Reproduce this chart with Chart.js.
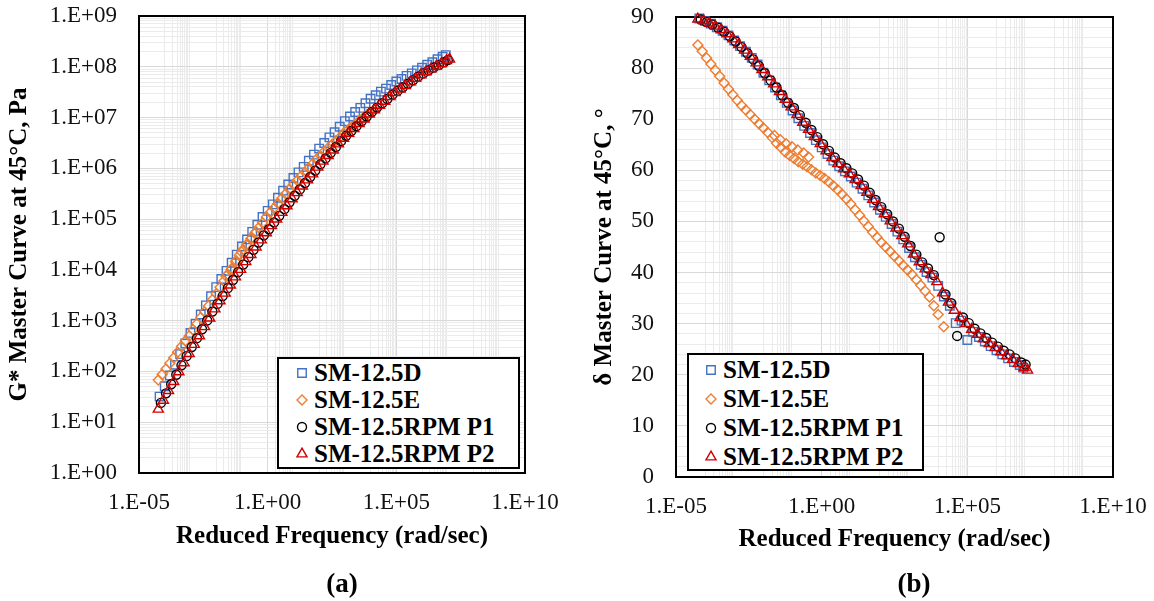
<!DOCTYPE html>
<html>
<head>
<meta charset="utf-8">
<title>Master curves</title>
<script src="https://cdn.jsdelivr.net/npm/chart.js@4.4.1/dist/chart.umd.min.js"></script>
<style>
  html, body { margin: 0; padding: 0; background: #fff; }
  #wrap { position: relative; width: 1154px; height: 601px; overflow: hidden; font-family: 'Liberation Serif', 'Times New Roman', serif; }
  #wrap canvas { position: absolute; top: 0; }
  .legend { position: absolute; box-sizing: border-box; background: #fff; border: 2px solid #000; font-weight: bold; font-size: 25px; color: #000; }
  .legend .row { position: absolute; left: 0; right: 0; white-space: nowrap; }
  .legend .row canvas { position: absolute; }
  .legend .row span { position: absolute; }
  .caption { position: absolute; transform: translate(-50%, -50%); font-weight: bold; font-size: 27px; }
</style>
</head>
<body>
<div id="wrap">
  <canvas id="gstar" width="577" height="601" style="left:0"></canvas>
  <canvas id="phase" width="577" height="601" style="left:577px"></canvas>
  <div id="legA" class="legend" style="left:277px; top:357px; width:243px; height:112px"></div>
  <div id="legB" class="legend" style="left:687px; top:353px; width:237px; height:118px"></div>
  <div class="caption" style="left:342px; top:583px">(a)</div>
  <div class="caption" style="left:914px; top:583px">(b)</div>
</div>
<script>
// SM-12.5D
const dFreq = [6.31e-5,
  1.00e-4, 1.58e-4, 2.51e-4, 3.98e-4, 6.31e-4,
  1.00e-3, 1.58e-3, 2.51e-3, 3.98e-3, 6.31e-3,
  1.00e-2, 1.58e-2, 2.51e-2, 3.98e-2, 6.31e-2,
  0.100, 0.158, 0.251, 0.398, 0.631,
  1.00, 1.58, 2.51, 3.98, 6.31,
  10.0, 15.8, 25.1, 39.8, 63.1,
  100, 158, 251, 398, 631,
  1000, 1580, 2510, 3980, 6310,
  1.00e4, 1.58e4, 2.51e4, 3.98e4, 6.31e4,
  1.00e5, 1.58e5, 2.51e5, 3.98e5, 6.31e5,
  1.00e6, 1.58e6, 2.51e6, 3.98e6, 6.31e6,
  8.32e6];
const dGstar = [32, 51, 83, 135, 219, 355, 575, 871, 1320, 2000, 3020, 4570, 6610, 9550,
  13800, 20000, 28800, 39800, 56200, 77600, 1.10e5, 1.45e5, 1.95e5, 2.63e5, 3.63e5, 4.79e5,
  6.46e5, 8.32e5, 1.07e6, 1.41e6, 1.86e6, 2.45e6, 3.16e6, 4.07e6, 5.13e6, 6.61e6, 8.51e6,
  1.05e7, 1.29e7, 1.55e7, 1.91e7, 2.34e7, 2.75e7, 3.24e7, 3.72e7, 4.37e7, 5.13e7, 5.75e7,
  6.61e7, 7.41e7, 8.51e7, 9.55e7, 1.10e8, 1.23e8, 1.41e8, 1.58e8, 1.70e8];
const dPhase = [89.7, 89.2, 88.7, 88.0, 87.3, 86.4, 85.4, 84.3, 83.2, 82.0, 80.7, 79.1, 77.6,
  76.2, 74.7, 73.2, 71.7, 70.2, 68.7, 67.3, 65.9, 64.5, 63.2, 61.9, 60.8, 59.8, 58.8, 57.6,
  56.4, 55.1, 53.7, 52.3, 50.9, 49.5, 48.0, 46.5, 44.8, 43.0, 41.5, 40.1, 39.0, 37.4, 35.3,
  33.5, 30.1, 30.6, 26.8, 28.4, 27.4, 26.5, 25.6, 24.8, 24.0, 23.2, 22.5, 21.9, 21.4];

// SM-12.5E
const eFreq = [5.62e-5, 7.94e-5, 1.12e-4, 1.58e-4, 2.24e-4, 3.16e-4, 4.47e-4, 6.31e-4, 8.91e-4,
  1.26e-3, 1.78e-3, 2.51e-3, 3.55e-3, 5.01e-3, 7.08e-3, 1.00e-2, 1.41e-2, 2.00e-2, 2.82e-2,
  3.98e-2, 5.62e-2, 7.94e-2, 0.112, 0.158, 0.224, 0.316, 0.447, 0.631, 0.891, 1.26, 1.78,
  2.51, 3.55, 5.01, 7.08, 10.0, 14.1, 20.0, 28.2, 39.8, 56.2, 79.4, 112, 158, 224, 316, 447,
  631, 891, 1260, 1780, 2510, 3550, 5010, 7080, 1.00e4, 1.55e4,
  2.40e-2, 3.80e-2, 6.03e-2, 9.55e-2, 0.151, 0.240, 0.355];
const eGstar = [68, 87, 112, 145, 186, 240, 309, 398, 501, 661, 871, 1150, 1480, 1950, 2570,
  3390, 4570, 6030, 8130, 10700, 14500, 19500, 25100, 32400, 41700, 52500, 67600, 85100,
  1.10e5, 1.35e5, 1.66e5, 2.04e5, 2.57e5, 3.16e5, 3.89e5, 4.79e5, 5.75e5, 7.08e5, 8.51e5,
  1.02e6, 1.23e6, 1.51e6, 1.78e6, 2.14e6, 2.51e6, 2.95e6, 3.47e6, 4.07e6, 4.90e6, 5.62e6,
  6.46e6, 7.41e6, 8.51e6, 9.77e6, 1.12e7, 1.29e7, 1.48e7,
  7590, 10200, 15100, 22400, 30900, 42700, 56200];
const ePhase = [84.5, 83.3, 82.0, 80.8, 79.6, 78.4, 77.1, 75.9, 74.8, 73.7, 72.7, 71.8, 70.9,
  70.0, 69.1, 68.3, 67.4, 66.4, 65.3, 64.5, 63.6, 62.9, 62.3, 61.7, 61.2, 60.7, 60.1, 59.5,
  59.0, 58.4, 57.7, 57.0, 56.2, 55.3, 54.4, 53.4, 52.3, 51.2, 50.1, 49.0, 47.9, 46.9, 45.9,
  45.0, 44.1, 43.2, 42.3, 41.4, 40.5, 39.6, 38.6, 37.5, 36.4, 35.2, 33.5, 31.8, 29.4,
  66.8, 66.0, 65.2, 64.6, 64.0, 63.4, 62.6];

// SM-12.5RPM P1
const p1Freq = [7.08e-5,
  1.12e-4, 1.78e-4, 2.82e-4, 4.47e-4, 7.08e-4,
  1.12e-3, 1.78e-3, 2.82e-3, 4.47e-3, 7.08e-3,
  1.12e-2, 1.78e-2, 2.82e-2, 4.47e-2, 7.08e-2,
  0.112, 0.178, 0.282, 0.447, 0.708,
  1.12, 1.78, 2.82, 4.47, 7.08,
  11.2, 17.8, 28.2, 44.7, 70.8,
  112, 178, 282, 447, 708,
  1120, 1780, 2820, 4470, 7080,
  1.12e4, 1.78e4, 2.82e4, 4.47e4, 7.08e4,
  1.12e5, 1.78e5, 2.82e5, 4.47e5, 7.08e5,
  1.12e6, 1.78e6, 2.82e6, 4.47e6, 7.08e6,
  1.00e7];
const p1Gstar = [24, 37, 56, 86, 132, 200, 302, 452, 676, 1010, 1510, 2140, 3050, 4370, 6310,
  9020, 12700, 17800, 24800, 34700, 47900, 63100, 86100, 1.16e5, 1.57e5, 2.14e5, 2.88e5,
  3.85e5, 5.13e5, 6.76e5, 9.02e5, 1.20e6, 1.57e6, 2.02e6, 2.63e6, 3.43e6, 4.37e6, 5.43e6,
  6.76e6, 8.41e6, 1.05e7, 1.29e7, 1.57e7, 1.91e7, 2.32e7, 2.82e7, 3.35e7, 3.94e7, 4.62e7,
  5.43e7, 6.38e7, 7.41e7, 8.51e7, 9.66e7, 1.08e8, 1.23e8, 1.35e8];
const p1Phase = [89.5, 89.0, 88.5, 87.9, 87.1, 86.2, 85.2, 84.1, 82.9, 81.7, 80.4, 79.0, 77.6,
  76.2, 74.7, 73.2, 72.2, 70.8, 69.3, 67.9, 66.5, 65.1, 63.8, 62.5, 61.4, 60.4, 59.4, 58.2,
  57.0, 55.6, 54.2, 52.8, 51.4, 50.0, 48.6, 47.0, 45.2, 43.5, 42.0, 40.8, 39.5, 46.9, 35.7,
  34.0, 27.6, 31.2, 30.1, 29.0, 28.1, 27.2, 26.3, 25.5, 24.7, 24.0, 23.2, 22.4, 22.0];

// SM-12.5RPM P2
const p2Freq = [5.62e-5, 8.91e-5,
  1.41e-4, 2.24e-4, 3.55e-4, 5.62e-4, 8.91e-4,
  1.41e-3, 2.24e-3, 3.55e-3, 5.62e-3, 8.91e-3,
  1.41e-2, 2.24e-2, 3.55e-2, 5.62e-2, 8.91e-2,
  0.141, 0.224, 0.355, 0.562, 0.891,
  1.41, 2.24, 3.55, 5.62, 8.91,
  14.1, 22.4, 35.5, 56.2, 89.1,
  141, 224, 355, 562, 891,
  1410, 2240, 3550, 5620, 8910,
  1.41e4, 2.24e4, 3.55e4, 5.62e4, 8.91e4,
  1.41e5, 2.24e5, 3.55e5, 5.62e5, 8.91e5,
  1.41e6, 2.24e6, 3.55e6, 5.62e6, 8.91e6,
  1.17e7];
const p2Gstar = [18, 27, 42, 63, 98, 148, 224, 339, 501, 759, 1120, 1700, 2450, 3470, 5010,
  7240, 10200, 14500, 20000, 28200, 38900, 53700, 74100, 1.00e5, 1.35e5, 1.82e5, 2.51e5,
  3.31e5, 4.47e5, 5.89e5, 7.76e5, 1.05e6, 1.38e6, 1.78e6, 2.29e6, 3.02e6, 3.89e6, 4.90e6,
  6.03e6, 7.59e6, 9.33e6, 1.17e7, 1.41e7, 1.74e7, 2.09e7, 2.57e7, 3.09e7, 3.63e7, 4.27e7,
  5.01e7, 5.89e7, 6.92e7, 7.94e7, 9.12e7, 1.02e8, 1.15e8, 1.32e8, 1.41e8];
const p2Phase = [89.6, 89.3, 88.8, 88.2, 87.5, 86.7, 85.7, 84.6, 83.5, 82.3, 81.0, 79.7, 78.3,
  76.9, 75.4, 73.9, 72.4, 70.9, 69.4, 68.0, 66.6, 65.2, 63.8, 62.5, 61.3, 60.3, 59.3, 58.2,
  57.0, 55.7, 54.3, 52.9, 51.5, 50.1, 48.7, 47.2, 45.6, 43.6, 42.1, 40.7, 39.6, 38.2, 36.0,
  34.2, 32.6, 31.2, 30.0, 28.9, 27.9, 27.0, 26.1, 25.3, 24.5, 23.7, 23.0, 22.2, 21.4, 20.9];

const seriesNames = ['SM-12.5D', 'SM-12.5E', 'SM-12.5RPM P1', 'SM-12.5RPM P2'];

// axis ticks (exponents / values)
const xMajorExp = [-5, 0, 5, 10];
const xMinorExp = [-4, -2, 0, 2, 4, 6, 8];
const gDecadeExp = [0, 1, 2, 3, 4, 5, 6, 7, 8, 9];
const phaseMax = 90, phaseStep = 2, phaseLabelStep = 10;

// styles
const colors = ['#4472C4', '#ED7D31', '#000000', '#D00000'];
const shapes = ['rect', 'rectRot', 'circle', 'triangle'];
const radii = [6, 5, 4.5, 5.8];
const FONT = 'Liberation Serif';
const GRID_MAJOR = '#d9d9d9', GRID_MINOR = '#ebebeb';

Chart.defaults.font.family = FONT;
Chart.defaults.color = '#000';

function sci(v) {
  const e = Math.round(Math.log10(v));
  return '1.E' + (e < 0 ? '-' : '+') + String(Math.abs(e)).padStart(2, '0');
}

const freqTicks = [];
xMajorExp.forEach(e => freqTicks.push({value: Math.pow(10, e), major: true}));
xMinorExp.forEach(e => {
  for (let k = 1; k <= 9; k++) {
    if (k === 1 && xMajorExp.includes(e)) continue;
    freqTicks.push({value: k * Math.pow(10, e), major: false});
  }
});
freqTicks.sort((a, b) => a.value - b.value);

const gTicks = [];
gDecadeExp.forEach(e => {
  for (let k = 1; k <= 9; k++) {
    if (k > 1 && e === gDecadeExp[gDecadeExp.length - 1]) break;
    gTicks.push({value: k * Math.pow(10, e), major: k === 1});
  }
});

const phaseTicks = [];
for (let v = 0; v <= phaseMax; v += phaseStep) phaseTicks.push({value: v, major: v % phaseLabelStep === 0});

function datasets(freqs, vals) {
  return seriesNames.map((name, i) => ({
    label: name,
    data: freqs[i].map((f, j) => ({x: f, y: vals[i][j]})),
    showLine: false,
    pointStyle: shapes[i],
    pointRadius: radii[i],
    pointBorderWidth: 1.4,
    pointBorderColor: colors[i],
    pointBackgroundColor: 'rgba(0,0,0,0)',
    borderColor: colors[i],
    backgroundColor: 'rgba(0,0,0,0)',
    order: seriesNames.length - i,
    clip: false
  }));
}

// invisible tick marks keep the labels off the frame without adding layout padding
function gridOpts(tickLen) {
  return {drawTicks: true, tickLength: tickLen, tickColor: 'rgba(0,0,0,0)', lineWidth: 1,
    color: c => (c.tick && c.tick.major) ? GRID_MAJOR : GRID_MINOR};
}
const tickFont = {family: FONT, size: 23};
const titleFont = {family: FONT, size: 25, weight: 'bold'};

function freqAxis(height) {
  return {
    type: 'logarithmic', position: 'bottom', min: 1e-5, max: 1e10,
    afterBuildTicks: s => { s.ticks = freqTicks.map(t => ({value: t.value, major: t.major})); },
    afterFit: s => { s.height = height; },
    ticks: {autoSkip: false, maxRotation: 0, padding: 0, font: tickFont, color: '#111',
      callback: (v, i, t) => t[i].major ? sci(v) : ''},
    grid: gridOpts(16),
    border: {display: false},
    title: {display: true, text: 'Reduced Frequency (rad/sec)', font: titleFont, color: '#000', padding: 0}
  };
}

const frame = {
  id: 'frame',
  beforeDatasetsDraw(chart) {
    const {ctx, chartArea: a} = chart;
    ctx.save();
    ctx.strokeStyle = '#000';
    ctx.lineWidth = 2;
    ctx.strokeRect(a.left, a.top, a.right - a.left, a.bottom - a.top);
    ctx.restore();
  }
};

const common = {
  responsive: false, animation: false, events: [],
  plugins: {legend: {display: false}, tooltip: {enabled: false}}
};

const chartA = new Chart(document.getElementById('gstar'), {
  type: 'scatter',
  data: {datasets: datasets([dFreq, eFreq, p1Freq, p2Freq], [dGstar, eGstar, p1Gstar, p2Gstar])},
  plugins: [frame],
  options: Object.assign({}, common, {
    layout: {autoPadding: false, padding: {left: 0, top: 16, right: 52, bottom: 49}},
    scales: {
      x: freqAxis(79),
      y: {
        type: 'logarithmic', position: 'left', min: 1, max: 1e9,
        afterBuildTicks: s => { s.ticks = gTicks.map(t => ({value: t.value, major: t.major})); },
        afterFit: s => { s.width = 139; },
        ticks: {autoSkip: false, padding: 0, font: tickFont, color: '#111',
          callback: (v, i, t) => t[i].major ? sci(v) : ''},
        grid: gridOpts(22),
        border: {display: false},
        title: {display: true, text: 'G* Master Curve at 45°C, Pa', font: titleFont, color: '#000', padding: {top: 5, bottom: 0}}
      }
    }
  })
});

const chartB = new Chart(document.getElementById('phase'), {
  type: 'scatter',
  data: {datasets: datasets([dFreq, eFreq, p1Freq, p2Freq], [dPhase, ePhase, p1Phase, p2Phase])},
  plugins: [frame],
  options: Object.assign({}, common, {
    layout: {autoPadding: false, padding: {left: 0, top: 17, right: 41, bottom: 46}},
    scales: {
      x: freqAxis(78),
      y: {
        type: 'linear', position: 'left', min: 0, max: phaseMax,
        afterBuildTicks: s => { s.ticks = phaseTicks.map(t => ({value: t.value, major: t.major})); },
        afterFit: s => { s.width = 99; },
        ticks: {autoSkip: false, padding: 0, font: tickFont, color: '#111',
          callback: (v, i, t) => t[i].major ? String(v) : ''},
        grid: gridOpts(22),
        border: {display: false},
        title: {display: true, text: 'δ Master Curve at 45°C, °', font: titleFont, color: '#000', padding: {top: 13, bottom: 0}}
      }
    }
  })
});

// HTML legend built from the chart's datasets
function htmlLegend(chart, el, rowH, top, markerX, textX) {
  chart.data.datasets.forEach((ds, i) => {
    const row = document.createElement('div');
    row.className = 'row';
    row.style.top = (top + i * rowH) + 'px';
    row.style.height = rowH + 'px';
    const cv = document.createElement('canvas');
    cv.width = 20; cv.height = 20;
    cv.style.left = (markerX - 10) + 'px';
    cv.style.top = ((rowH - 20) / 2) + 'px';
    const ctx = cv.getContext('2d');
    ctx.strokeStyle = ds.pointBorderColor;
    ctx.fillStyle = 'rgba(0,0,0,0)';
    ctx.lineWidth = 1.4;
    Chart.helpers.drawPoint(ctx, {pointStyle: ds.pointStyle, radius: ds.pointRadius, rotation: 0, borderWidth: 1.4}, 10, 10);
    const span = document.createElement('span');
    span.textContent = ds.label;
    span.style.left = textX + 'px';
    span.style.lineHeight = rowH + 'px';
    row.appendChild(cv);
    row.appendChild(span);
    el.appendChild(row);
  });
}
htmlLegend(chartA, document.getElementById('legA'), 27, 0, 23, 35);
htmlLegend(chartB, document.getElementById('legB'), 29, 0, 22, 34);
</script>
</body>
</html>
